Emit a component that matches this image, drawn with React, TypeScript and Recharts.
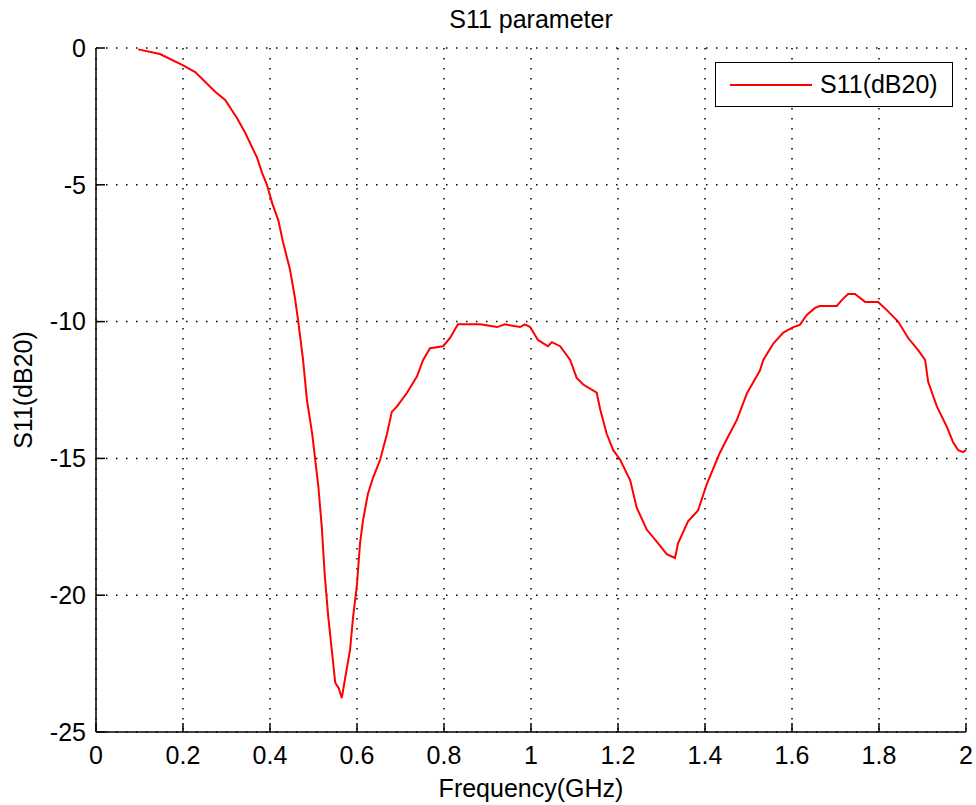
import React from "react";
import {
  LineChart,
  Line,
  XAxis,
  YAxis,
  CartesianGrid,
  Legend,
} from "recharts";

// frequency points (GHz)
const freq = [
  0.097, 0.147, 0.198, 0.228, 0.274, 0.297, 0.324, 0.343, 0.37, 0.382,
  0.393, 0.405, 0.419, 0.43, 0.446, 0.457, 0.465, 0.476, 0.485, 0.497,
  0.504, 0.511, 0.519, 0.526, 0.534, 0.542, 0.55, 0.558, 0.565, 0.572,
  0.584, 0.591, 0.6, 0.607, 0.614, 0.625, 0.637, 0.653, 0.669, 0.68,
  0.692, 0.715, 0.738, 0.752, 0.768, 0.798, 0.814, 0.832, 0.883, 0.922,
  0.94, 0.975, 0.986, 0.998, 1.016, 1.039, 1.048, 1.067, 1.09, 1.105,
  1.12, 1.151, 1.159, 1.174, 1.189, 1.205, 1.228, 1.243, 1.266, 1.29,
  1.312, 1.331, 1.338, 1.361, 1.384, 1.405, 1.434, 1.45, 1.473, 1.497,
  1.526, 1.534, 1.557, 1.58, 1.603, 1.618, 1.634, 1.653, 1.664, 1.703,
  1.717, 1.729, 1.745, 1.768, 1.798, 1.818, 1.844, 1.867, 1.89, 1.906,
  1.913, 1.933, 1.956, 1.97, 1.982, 1.993, 2.0,
];

// S11 in dB
const s11 = [
  -0.05, -0.22, -0.62, -0.88, -1.6, -1.9, -2.56, -3.1, -4.0, -4.57,
  -5.0, -5.67, -6.29, -7.1, -8.1, -9.1, -10.0, -11.4, -12.87, -14.1,
  -15.06, -16.0, -17.5, -19.3, -20.8, -22.0, -23.2, -23.4, -23.76, -23.1,
  -22.0, -20.8, -19.6, -18.1, -17.25, -16.3, -15.7, -15.06, -14.1, -13.3,
  -13.1, -12.6, -12.0, -11.4, -10.97, -10.9, -10.6, -10.1, -10.1, -10.2,
  -10.1, -10.2, -10.1, -10.2, -10.67, -10.9, -10.75, -10.9, -11.4, -12.06,
  -12.3, -12.6, -13.2, -14.1, -14.7, -15.05, -15.8, -16.8, -17.6, -18.06,
  -18.5, -18.64, -18.1, -17.3, -16.9, -15.9, -14.8, -14.3, -13.6, -12.6,
  -11.8, -11.4, -10.8, -10.4, -10.2, -10.12, -9.76, -9.5, -9.43, -9.43,
  -9.17, -8.99, -8.99, -9.28, -9.28, -9.58, -10.0, -10.6, -11.04, -11.4,
  -12.2, -13.1, -13.85, -14.4, -14.7, -14.77, -14.7,
];

const xTicks = [0, 0.2, 0.4, 0.6, 0.8, 1, 1.2, 1.4, 1.6, 1.8, 2];
const xTickLabels = ["0", "0.2", "0.4", "0.6", "0.8", "1", "1.2", "1.4", "1.6", "1.8", "2"];
const yTicks = [-25, -20, -15, -10, -5, 0];

const FONT = '"Liberation Sans", Arial, Helvetica, sans-serif';

const data = freq.map((f, i) => ({ f, s11: s11[i] }));

const tickStyle = { fill: "#000", fontSize: 25, fontFamily: FONT };
const axisLine = { stroke: "#000", strokeWidth: 1.5 };

function LegendBox() {
  return (
    <div
      style={{
        width: 238,
        height: 45,
        boxSizing: "border-box",
        border: "1.5px solid #000",
        background: "#fff",
        display: "flex",
        alignItems: "center",
        fontFamily: FONT,
        fontSize: 25,
        color: "#000",
      }}
    >
      <div
        style={{
          width: 82,
          height: 2,
          background: "#ff0000",
          marginLeft: 14,
          marginRight: 8,
        }}
      />
      <span>S11(dB20)</span>
    </div>
  );
}

export default function App() {
  return (
    <div
      style={{
        position: "absolute",
        left: 0,
        top: 0,
        width: 976,
        height: 805,
        background: "#fff",
        fontFamily: FONT,
      }}
    >
      <div
        style={{
          position: "absolute",
          left: 96,
          width: 870,
          top: 7,
          textAlign: "center",
          fontSize: 25,
          lineHeight: "25px",
          color: "#000",
        }}
      >
        S11 parameter
      </div>
      <LineChart
        width={976}
        height={805}
        data={data}
        margin={{ top: 48, right: 10, bottom: 43, left: 36 }}
      >
        <CartesianGrid stroke="#000" strokeWidth={1.5} strokeDasharray="1.5 8.5" />
        <XAxis
          dataKey="f"
          type="number"
          domain={[0, 2]}
          ticks={xTicks}
          tickFormatter={(v: number) => xTickLabels[xTicks.indexOf(v)] ?? String(v)}
          height={30}
          axisLine={axisLine}
          tickLine={{ stroke: "#000", strokeWidth: 1.5 }}
          tickSize={-9}
          tickMargin={23}
          tick={tickStyle}
          interval={0}
          label={{
            value: "Frequency(GHz)",
            position: "bottom",
            offset: 17,
            fill: "#000",
            fontSize: 25,
            fontFamily: FONT,
          }}
        />
        <XAxis
          xAxisId="top"
          orientation="top"
          type="number"
          domain={[0, 2]}
          ticks={xTicks}
          tickFormatter={() => ""}
          height={0}
          axisLine={axisLine}
          tickLine={{ stroke: "#000", strokeWidth: 1.5 }}
          tickSize={-9}
          interval={0}
        />
        <YAxis
          type="number"
          domain={[-25, 0]}
          ticks={yTicks}
          width={60}
          axisLine={axisLine}
          tickLine={{ stroke: "#000", strokeWidth: 1.5 }}
          tickSize={-9}
          tickMargin={19}
          tick={tickStyle}
          interval={0}
          label={{
            value: "S11(dB20)",
            position: "left",
            angle: -90,
            offset: 13,
            fill: "#000",
            fontSize: 25,
            fontFamily: FONT,
            style: { textAnchor: "middle" },
          }}
        />
        <YAxis
          yAxisId="right"
          orientation="right"
          type="number"
          domain={[-25, 0]}
          ticks={yTicks}
          tickFormatter={() => ""}
          width={0}
          axisLine={axisLine}
          tickLine={{ stroke: "#000", strokeWidth: 1.5 }}
          tickSize={-9}
          interval={0}
        />
        <Legend
          layout="horizontal"
          verticalAlign="middle"
          content={() => <LegendBox />}
          wrapperStyle={{ position: "absolute", left: 715, top: 62, width: 238 }}
        />
        <Line
          type="linear"
          dataKey="s11"
          name="S11(dB20)"
          stroke="#ff0000"
          strokeWidth={2}
          dot={false}
          isAnimationActive={false}
        />
      </LineChart>
    </div>
  );
}
